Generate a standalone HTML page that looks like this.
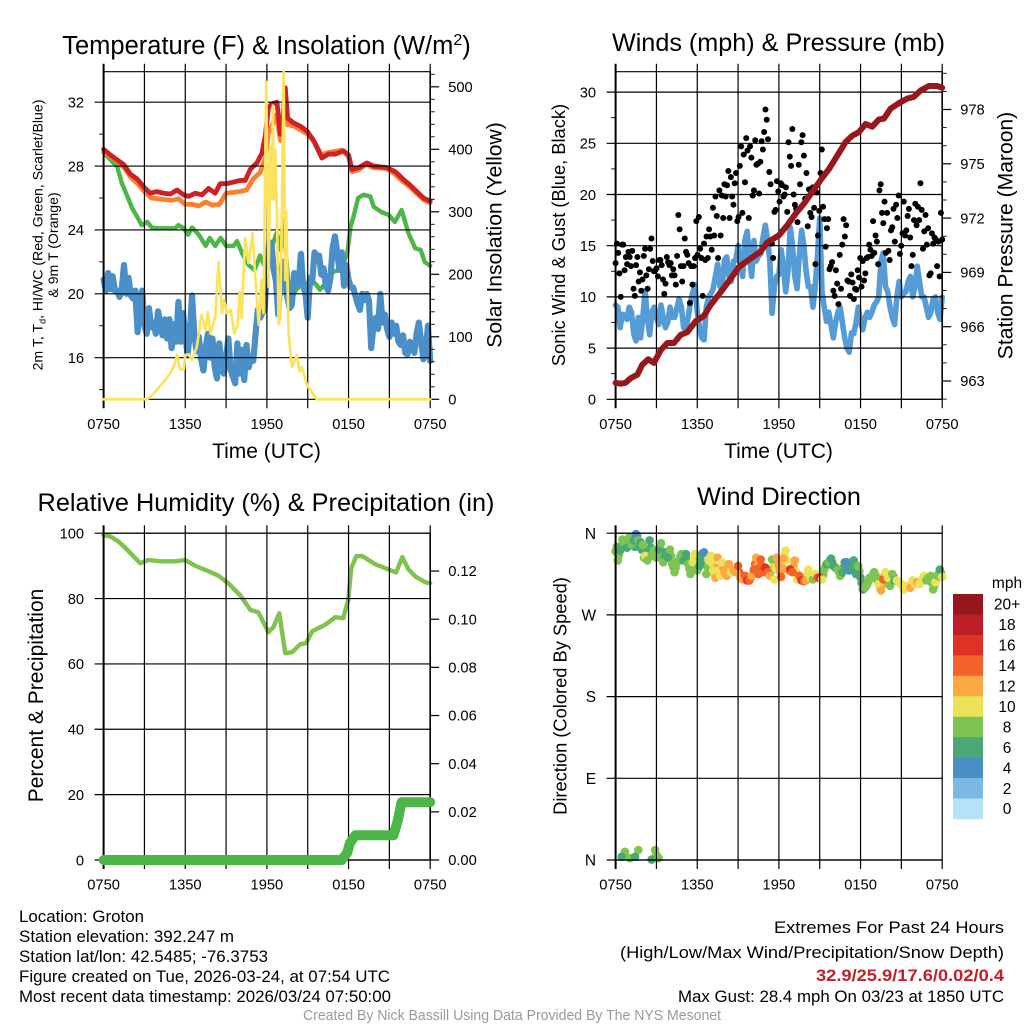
<!DOCTYPE html>
<html lang="en">
<head>
<meta charset="utf-8">
<title>Groton Mesonet Meteogram</title>
<style>
html,body{margin:0;padding:0;background:#fff;}
svg{display:block;font-family:"Liberation Sans",Arial,sans-serif;fill:#000;}
</style>
</head>
<body>
<svg id="fig" width="1024" height="1024" viewBox="0 0 1024 1024" xmlns="http://www.w3.org/2000/svg">
<rect width="1024" height="1024" fill="#fff"/>

<text x="266.5" y="54" text-anchor="middle" font-size="25.5">Temperature (F) &amp; Insolation (W/m<tspan dy="-9" font-size="16">2</tspan><tspan dy="9">)</tspan></text>
<text x="778.5" y="51" text-anchor="middle" font-size="25.2">Winds (mph) &amp; Pressure (mb)</text>
<text x="266" y="511" text-anchor="middle" font-size="25.3">Relative Humidity (%) &amp; Precipitation (in)</text>
<text x="779" y="505" text-anchor="middle" font-size="25.2">Wind Direction</text>

<text x="266.5" y="458" text-anchor="middle" font-size="21">Time (UTC)</text>
<text x="778.5" y="458" text-anchor="middle" font-size="21">Time (UTC)</text>

<text transform="translate(42.5 235) rotate(-90)" text-anchor="middle" font-size="14.1">2m T, T<tspan dy="3" font-size="9">d</tspan><tspan dy="-3">, HI/WC (Red, Green, Scarlet/Blue)</tspan></text>
<text transform="translate(58 245) rotate(-90)" text-anchor="middle" font-size="14.1">&amp; 9m T (Orange)</text>
<text transform="translate(501.5 235) rotate(-90)" text-anchor="middle" font-size="21.1">Solar Insolation (Yellow)</text>
<text transform="translate(565 235) rotate(-90)" text-anchor="middle" font-size="18.3">Sonic Wind &amp; Gust (Blue, Black)</text>
<text transform="translate(1012.5 235.5) rotate(-90)" text-anchor="middle" font-size="21.1">Station Pressure (Maroon)</text>
<text transform="translate(43 695.5) rotate(-90)" text-anchor="middle" font-size="21">Percent &amp; Precipitation</text>
<text transform="translate(566.5 696) rotate(-90)" text-anchor="middle" font-size="18.3">Direction (Colored By Speed)</text>

<g id="temp-panel"></g>
<g id="wind-panel"></g>
<g id="rh-panel"></g>
<g id="dir-panel"></g>
<g id="legend">
<text x="1007" y="588" text-anchor="middle" font-size="15.5">mph</text>
</g>

<g font-size="16.6">
<text x="19" y="922" textLength="125" lengthAdjust="spacingAndGlyphs">Location: Groton</text>
<text x="19" y="942" textLength="215" lengthAdjust="spacingAndGlyphs">Station elevation: 392.247 m</text>
<text x="19" y="962" textLength="249" lengthAdjust="spacingAndGlyphs">Station lat/lon: 42.5485; -76.3753</text>
<text x="19" y="982" textLength="371" lengthAdjust="spacingAndGlyphs">Figure created on Tue, 2026-03-24, at 07:54 UTC</text>
<text x="19" y="1002" textLength="372" lengthAdjust="spacingAndGlyphs">Most recent data timestamp: 2026/03/24 07:50:00</text>
</g>
<g font-size="16.6">
<text x="774" y="933" textLength="230" lengthAdjust="spacingAndGlyphs">Extremes For Past 24 Hours</text>
<text x="620" y="958" textLength="384" lengthAdjust="spacingAndGlyphs">(High/Low/Max Wind/Precipitation/Snow Depth)</text>
<text x="816" y="981" textLength="188" lengthAdjust="spacingAndGlyphs" font-weight="bold" fill="#c4202b" style="fill:#c4202b">32.9/25.9/17.6/0.02/0.4</text>
<text x="678" y="1002" textLength="326" lengthAdjust="spacingAndGlyphs">Max Gust: 28.4 mph On 03/23 at 1850 UTC</text>
</g>
<text x="303" y="1020" textLength="418" lengthAdjust="spacingAndGlyphs" font-size="14.4" style="fill:#9a9a9a">Created By Nick Bassill Using Data Provided By The NYS Mesonet</text>
</svg>

<script>
// ---------- Time axis ----------
const timeLabels = ['0750','1350','1950','0150','0750'];
const timeLabelHours = [0,6,12,18,24];
const timeTickHours = [0,3,6,9,12,15,18,21,24];

// ---------- Temperature panel ----------
const tempTicks = [16,20,24,28,32];
const tempMinorTicks = [14,18,22,26,30];
const solarTicks = [0,100,200,300,400,500];
const solarMinorTicks = [20,40,60,80,120,140,160,180,220,240,260,280,320,340,360,380,420,440,460,480,520];

const redHours = [0,.49,.98,1.47,1.96,2.45,2.94,3.43,3.92,4.41,4.9,5.39,5.88,6.25,6.74,7.23,7.71,8.2,8.57,9.06,9.55,10.04,10.41,10.78,11.27,11.63,11.88,12.12,12.37,12.74,12.98,13.1,13.35,13.52,13.96,14.45,14.94,15.43,16.04,16.53,17.02,17.63,18,18.25,18.74,19.35,19.84,20.82,21.43,21.92,22.53,23.02,23.51,24];
const redTemps = [29.05,28.7,28.4,28.1,27.5,27.2,26.7,26.3,26.4,26.3,26.25,26.5,26.2,26.1,26.3,26.2,26.6,26.3,26.9,26.9,27,27.1,27.1,27.8,28.2,28.8,29.9,31.7,31.9,32,30,30.1,32.9,31,30.7,30.5,30.2,29.6,28.5,28.75,28.75,28.95,28.7,27.8,27.9,28.2,28,27.9,27.65,27.25,26.8,26.4,26,25.8];

const orangeHours = [0,1,1.5,2,2.5,3,3.5,4,5,5.5,6,6.5,7,7.5,8,8.5,9,10,10.5,11,11.5,11.9,12.1,12.5,12.7,13,13.2,13.5,14,15,15.5,16,16.5,17.5,18,18.25,18.7,19.3,19.8,20.8,21.4,21.9,22.5,23,23.5,24];
const orangeTemps = [28.9,28.3,27.9,27.3,26.9,26.4,26,25.95,25.85,25.95,25.6,25.6,25.5,25.75,25.55,25.6,26.3,26.4,26.5,27.2,27.6,28.5,30,30.8,31.2,29.6,31,30.6,30.5,30,29.5,28.7,28.85,29,28.6,27.65,27.75,28.1,27.9,27.85,27.5,27.1,26.7,26.3,25.9,25.7];

const greenHours = [0,.5,1,1.35,1.7,2.1,2.45,2.8,3.2,3.55,4,4.6,5.25,5.5,5.9,6.2,6.5,7,7.5,7.8,8.2,8.6,9,9.55,9.8,10.2,10.65,11.1,11.5,11.9,12.4,12.7,13,13.2,13.7,14.1,14.6,15,15.55,15.9,16.3,16.9,17.4,17.9,18.15,18.4,18.7,19.1,19.6,19.85,20.45,20.95,21.4,21.9,22.4,22.9,23.3,23.6,24];
const greenTemps = [28.85,28.4,27.96,26.9,26.2,25.35,24.85,24.3,24.5,24.15,24.1,24.1,24.1,24.3,24.1,23.7,24.15,23.7,23,23.5,23,23.5,23,23,23.3,22.5,21.8,21.5,22.4,21.6,23,23.8,22.75,24.6,19.4,20.2,20.65,20.65,20.65,20.25,20.65,21.4,21.5,22.5,24.2,24.95,26,26.2,26.1,25.45,25.1,24.95,24.5,25.25,23.8,22.85,22.75,22,21.75];

const dewTemps = [20.9,20.2,21.3,20.3,21.1,20.2,20.2,19.8,20.3,21.8,20,21,19.9,19.7,20.2,17.6,19.5,20.2,18,17.5,19.1,17.9,18.2,17.5,18.9,18.2,17.4,18.4,17.2,18.4,16.6,18.1,17,19.5,17,18.8,17.5,16.2,17.5,19.9,17.4,16.4,17.3,15.9,15.2,16.6,17.5,16,17.2,15.4,14.7,16.9,15.5,15,16,17.2,15.3,14.8,14.4,16.9,15,16.5,14.6,16.8,15.4,16,15.8,17.5,19,18.5,18.8,19,21.5,23.2,23.2,21.5,20.8,18.7,21,22,20.5,19.8,19.1,19.3,21.3,20.8,20.6,22.5,20.5,20,18.5,21,20.8,22.6,22.2,22.4,21.2,21.6,20.5,20.2,21,22.9,23.6,22.6,21.5,22.6,20.5,21.8,20.9,20.4,20.4,19.9,19.4,19,20,19.6,20,19.6,16.6,18,18.5,17.8,20,18.2,18.7,17.8,17.3,18.2,17.5,18,17,16.8,17.4,16.3,16.2,17,16.9,16.3,17.5,18.2,17,15.9,16.4,18,15.8];

const solarHours = [0,3.2,3.43,3.92,4.41,4.9,5.15,5.4,5.6,5.9,6,6.25,6.5,6.85,7.2,7.5,7.65,7.85,8.2,8.45,8.7,8.85,9.05,9.35,9.6,9.85,10,10.15,10.4,10.65,10.95,11.15,11.4,11.6,11.75,11.95,12.12,12.25,12.37,12.44,12.49,12.61,12.74,12.86,12.98,13.1,13.23,13.35,13.42,13.59,13.84,14.2,14.4,14.57,14.94,15.67,24];
const solarValues = [0,0,4,15,28,42,52,71,48,48,71,72,63,84,135,111,140,105,132,220,138,159,138,143,105,119,172,130,258,218,266,196,119,191,138,508,180,404,320,470,320,400,300,120,132,300,524,191,300,106,52,71,44,52,23,0,0];

// ---------- Winds panel ----------
const windTicks = [0,5,10,15,20,25,30];
const windMinorTicks = [2.5,7.5,12.5,17.5,22.5,27.5];
const pressureTicks = [963,966,969,972,975,978];
const pressureMinorTicks = [962,964,965,967,968,970,971,973,974,976,977,979,980];

const windSpeeds = [9.2,9,7,8.3,8.2,7.8,9,8.5,6.4,5.7,8,6,8,10.6,8,6.3,8.5,9,8,7.3,9.2,8,7,7.5,9,8,8,8.9,9.8,9,7,7,8,9.5,10.4,11.2,8.5,7,6,5.8,9,10,10.3,10.8,12,13.2,11,11,13.6,13.9,12,11.5,13.5,13.6,15,13,12,15.5,16.4,14,12,15.5,13.5,14,14.2,15.8,17,15.6,13.5,8.4,11,12,12.2,14.6,13,10.5,12.5,16.8,15,12,10.8,14,16.5,15,12.5,11,11,9,11,14,17.7,10.5,9,7.6,8.5,7.2,6,7.5,8.5,9,7.5,6,5,4.6,6.5,6.4,7.5,9,7.5,6.8,8,8.5,8,8.5,9.2,9.5,10,13.5,14.3,11,10.5,9,8,7.3,10,11.5,10,10.3,10.5,11.5,12,10,11,13,11.5,10,10,9,8,8.5,9.8,10,8.5,7.8,10];

const gustValues = [13.3,15.2,14.3,12.3,10,15.1,15.1,12.6,13.9,13.2,14.4,13.9,13,14.5,10.8,10.1,13.1,13.9,11.5,12.4,10.6,11.7,14,14.7,12.1,10.8,12.7,14.7,15.7,13.5,12.5,12.6,12.8,12,13.6,13.6,13.1,11.7,10.3,11.3,13.9,13.4,13.1,13.3,12.1,12.7,12.1,11.2,14,18,16.6,13,11.5,13,15.7,14.4,14.1,13.3,9.4,13,11.2,13,13.8,17.4,14.1,17.8,14.7,13.8,10.1,15.2,13.6,15.9,13.8,16.6,15.9,14.6,18.7,16,19.8,17.9,13.8,20.4,16,19.9,17.7,21,19.8,20.9,22.3,17.7,21.7,19.8,19,21.1,22.1,17.4,17.8,22.8,24.7,18.2,23.9,21.2,25.5,24.3,17.7,24.7,23.6,19.9,20.4,25.3,22.9,23,20.1,23.2,25.2,24.4,26.1,28.3,27.3,25.4,22.2,21,15.2,13.8,18.3,18.5,21.3,20.3,19.3,21.1,20.9,19.8,20,20.7,18.3,25.1,23.7,22.8,26.4,20,19,18.6,17.3,22.9,21,25.1,25.8,23.8,19.6,22.1,16.9,20.5,18.2,17.8,20.7,18.7,13.2,20.2,16,18.4,22.1,24.4,18.8,17.6,14.9,16.7,17.6,12.7,13,13.4,10.6,10.1,12.6,11.3,9.3,14.1,10.8,15.1,17.6,15.9,17,11.6,11.5,10.1,12.2,11.4,9.8,10.8,10.7,12.6,11.9,13.8,11,13.5,11.6,12.3,13.8,13.9,15.1,14.6,14,17.4,14.3,16,15.4,13.2,20.4,21,18.2,17.2,19.3,14.3,18.2,14.5,13.6,16.5,16.8,18.6,15.4,19,17.7,19.9,14.2,15,16.2,19.3,16,16.5,17.9,18.6,15.8,13,14.1,17.5,19.1,17,18.8,17.5,21.1,18.5,14.7,16.4,18,15.1,16.7,12.1,12.3,16.2,15.2,15.8,15.6,13,15.4,12,18.2,15.6];

const pressureHours = [0,.37,.73,1.1,1.6,1.96,2.4,2.82,3.31,3.8,4.29,4.78,5.27,5.88,6.49,6.98,7.71,8.45,9.06,9.8,10.65,11.14,12,12.61,13.23,13.84,14.45,15.06,15.67,16.29,16.9,17.39,17.88,18.37,18.86,19.35,19.72,20.21,20.82,21.43,21.92,22.41,23.02,23.63,24];
const pressureValues = [962.9,962.85,962.9,963.15,963.35,963.9,964.2,964,964.7,965.1,965.1,965.55,965.7,966.3,966.6,967.2,967.9,968.65,969.3,969.7,970.15,970.65,971.05,971.6,972.25,972.8,973.45,974.1,974.7,975.45,976.2,976.55,976.75,977.2,977.05,977.45,977.5,978.05,978.35,978.6,978.7,979.05,979.3,979.3,979.2];

// ---------- Humidity panel ----------
const rhTicks = [0,20,40,60,80,100];
const precipTicks = [0,0.02,0.04,0.06,0.08,0.10,0.12];
const rhHours = [0,.5,1.08,1.6,2.18,2.7,3.28,4.17,5.27,6,6.74,7.69,8.43,9.16,10.04,10.79,11.37,12.11,12.47,12.91,13.35,13.86,14.45,14.89,15.33,16.29,17.03,17.61,17.97,18.2,18.57,19.01,19.96,21.06,21.5,21.95,22.39,22.9,23.64,24];
const rhValues = [99.4,99,97.5,95.5,93,90.8,91.8,91.4,91.4,91.8,90,88.4,87,84.7,81,76.5,75.8,69.7,71.2,75.5,63.3,63.6,66,66.4,70,72,74.3,74,79.5,89.3,93,93,90.5,88.7,88,92.7,89,86.8,85,84.7];
const precipHours = [0,17.5,17.9,18.1,18.5,21.3,21.6,21.9,24];
const precipValues = [0,0,.003,.007,.0103,.0103,.016,.024,.024];

// ---------- Direction panel ----------
const dirTickLabels = ['N','E','S','W','N'];
const dirTickValues = [0,90,180,270,360];
const dirValues = [340,330,341,353,351,344,355,348,352,359,352,350,347,335,330,352,335,341,333,342,349,328,339,333,342,326,317,328,330,337,330,337,326,315,328,337,319,324,337,339,315,330,335,319,311,333,313,328,317,313,326,317,319,317,324,311,309,313,308,308,313,320,333,315,331,317,322,317,313,331,309,333,324,312,332,341,319,320,317,330,309,313,308,307,308,320,311,309,315,311,311,309,320,326,328,332,324,322,320,313,317,328,328,319,322,330,315,324,311,298,300,304,311,311,317,311,304,297,309,317,311,302,315,308,308,306,304,298,300,302,300,308,304,306,304,308,313,308,311,313,298,306,313,320,312];
const dirValuesBetween = [345,336,346,350,349,348,352,350,345,357,350,342,333,332,340,344,338,337,336,345,340,333,336,338,335,322,322,329,334,333,334,331,321,322,332,328,322,330,338,327,323,332,327,315,322,322,321,322,315,320,320,318,318,320,317,310,311,310,308,310,316,326,324,322,324,319,320,315,322,320,321,328,318,322,336,330,320,318,324,318,311,310,308,308,314,315,310,312,313,311,310,314,323,327,330,328,323,321,317,315,322,328,324,320,326,322,320,318,305,299,302,307,311,314,314,308,300,303,313,314,306,308,312,308,307,305,301,299,301,301,304,306,305,306,306,310,310,309,312,305,302,309,316,316];
const wrapHours = [.69,.45,1.06,1.67,1.43,2.9,3,2.65,3.15];
const wrapDirs = [9,3.6,2,11,3.6,11,5.5,.5,2];
const wrapSpeeds = [8,6,8,8,6,8,8,6,8];

const speedLabels = ['20+','18','16','14','12','10','8','6','4','2','0'];
const speedColors = ['#95161c','#bc1d27','#e03127','#f46229','#fba843','#ebe257','#7dc450','#4aa776','#4a90c5','#7bb8e4','#b7e2f8'];

// ---------- Axis functions ----------
const HOURS = 24, PLOT_W = 326.6;
const leftX0 = 103.6, rightX0 = 615.6;
const timeX = (x0, h) => x0 + h / HOURS * PLOT_W;
const topY0 = 71.7, topY1 = 399.3, botY0 = 533.2, botY1 = 860;
const tempY = v => 357.7 - (v - 16) * 15.97;
const solarY = v => topY1 - v * 0.625;
const windY = v => topY1 - v * 10.24;
const pressureY = v => 381 - (v - 963) * 18.1;
const rhY = v => botY1 - v * 3.268;
const precipY = v => botY1 - v * 2408;
const dirY = v => botY1 - v * 0.9078;

const NS = 'http://www.w3.org/2000/svg';
function mk(parent, tag, attrs, text) {
  const el = document.createElementNS(NS, tag);
  for (const k in attrs) el.setAttribute(k, attrs[k]);
  if (text !== undefined) el.textContent = text;
  parent.appendChild(el);
  return el;
}
const uniformHours = n => Array.from({length: n}, (_, i) => i * HOURS / (n - 1));
function pathFrom(x0, hours, values, yFn) {
  return values.map((v, i) => (i ? 'L' : 'M') + timeX(x0, hours[i]).toFixed(2) + ' ' + yFn(v).toFixed(2)).join('');
}
function drawLine(parent, x0, hours, values, yFn, color, width) {
  return mk(parent, 'path', {d: pathFrom(x0, hours, values, yFn), fill: 'none', stroke: color, 'stroke-width': width, 'stroke-linejoin': 'round', 'stroke-linecap': 'round'});
}
const tickStyle = {stroke: '#000', 'stroke-width': 1.2};

function drawFrame(parent, x0, yTop, yBot) {
  const x1 = x0 + PLOT_W;
  const frame = mk(parent, 'g', {});
  
  
  timeTickHours.forEach((h, i) => {
    const x = timeX(x0, h);
    const isEdge = (i === 0);
    const line = mk(frame, 'line', Object.assign({}, tickStyle, {x1: x, x2: x, y1: yTop - 8, y2: yBot + 9, 'stroke-width': isEdge ? 2 : 1.2}));
    
    
  });
  const top = mk(frame, 'line', Object.assign({}, tickStyle, {x1: x0, x2: x1, y1: yTop, y2: yTop}));
  
  
  const bottom = mk(frame, 'line', Object.assign({}, tickStyle, {x1: x0, x2: x1, y1: yBot, y2: yBot}));
  
  
  timeLabelHours.forEach((h, i) => {
    const t = mk(frame, 'text', {x: timeX(x0, h), y: yBot + 29.5, 'text-anchor': 'middle', 'font-size': 14.7}, timeLabels[i]);
    
    
  });
}
function drawLeftAxis(parent, x0, ticks, minor, yFn, labels, fs, grid) {
  const x1 = x0 + PLOT_W;
  ticks.forEach((v, i) => {
    const y = yFn(v);
    const line = mk(parent, 'line', Object.assign({}, tickStyle, {x1: x0 - 9, x2: grid ? x1 : x0, y1: y, y2: y}));
    
    
    const t = mk(parent, 'text', {x: x0 - 19.5, y: y + fs * 0.36, 'text-anchor': 'end', 'font-size': fs}, labels[i]);
    
    
  });
  minor.forEach(v => {
    const y = yFn(v);
    const line = mk(parent, 'line', Object.assign({}, tickStyle, {x1: x0 - 4.5, x2: x0, y1: y, y2: y, 'stroke-width': 0.9}));
    
    
  });
}
function drawRightAxis(parent, x0, ticks, minor, yFn, labels) {
  const x1 = x0 + PLOT_W;
  const spine = mk(parent, 'line', {x1: x1, x2: x1, y1: yFn === solarY || yFn === pressureY ? topY0 : botY0, y2: yFn === solarY || yFn === pressureY ? topY1 : botY1, stroke: '#000', 'stroke-width': 1.6});
  
  
  ticks.forEach((v, i) => {
    const y = yFn(v);
    const line = mk(parent, 'line', Object.assign({}, tickStyle, {x1: x1, x2: x1 + 9, y1: y, y2: y}));
    
    
    const t = mk(parent, 'text', {x: x1 + 18, y: y + 5.2, 'font-size': 14.7}, labels[i]);
    
    
  });
  minor.forEach(v => {
    const y = yFn(v);
    const line = mk(parent, 'line', Object.assign({}, tickStyle, {x1: x1, x2: x1 + 4.5, y1: y, y2: y, 'stroke-width': 0.9}));
    
    
  });
}

// ---------- Temperature panel drawing ----------
(function () {
  const p = document.getElementById('temp-panel');
  const green = drawLine(p, leftX0, greenHours, greenTemps, tempY, '#4cb748', 4.4);
  
  
  const orange = drawLine(p, leftX0, orangeHours, orangeTemps, tempY, '#f9812f', 4.8);
  
  
  const red = drawLine(p, leftX0, redHours, redTemps, tempY, '#cf2026', 4.8);
  
  
  const blue = drawLine(p, leftX0, uniformHours(dewTemps.length), dewTemps, tempY, '#4a8fc7', 6.2);
  
  
  drawFrame(p, leftX0, topY0, topY1);
  drawLeftAxis(p, leftX0, tempTicks, tempMinorTicks, tempY, tempTicks.map(String), 14.7, true);
  drawRightAxis(p, leftX0, solarTicks, solarMinorTicks, solarY, solarTicks.map(String));
  const yellow = drawLine(p, leftX0, solarHours, solarValues, solarY, '#fde35d', 2.7);
  
  
})();

// ---------- Winds panel drawing ----------
(function () {
  const p = document.getElementById('wind-panel');
  const blue = drawLine(p, rightX0, uniformHours(windSpeeds.length), windSpeeds, windY, '#559cd6', 5.6);
  
  
  drawFrame(p, rightX0, topY0, topY1);
  drawLeftAxis(p, rightX0, windTicks, windMinorTicks, windY, windTicks.map(String), 14.7, true);
  drawRightAxis(p, rightX0, pressureTicks, pressureMinorTicks, pressureY, pressureTicks.map(String));
  const gustHours = uniformHours(gustValues.length);
  gustValues.forEach((v, i) => {
    const c = mk(p, 'circle', {cx: timeX(rightX0, gustHours[i]), cy: windY(v), r: 3, fill: '#000'});
    
    
  });
  const maroon = drawLine(p, rightX0, pressureHours, pressureValues, pressureY, '#96181c', 6);
  
  
})();

// ---------- Humidity panel drawing ----------
(function () {
  const p = document.getElementById('rh-panel');
  const rh = drawLine(p, leftX0, rhHours, rhValues, rhY, '#7fc24f', 4.4);
  
  
  drawFrame(p, leftX0, botY0, botY1);
  drawLeftAxis(p, leftX0, rhTicks, [], rhY, rhTicks.map(String), 14.7, true);
  drawRightAxis(p, leftX0, precipTicks, [], precipY, precipTicks.map(v => v.toFixed(2)));
  const pr = drawLine(p, leftX0, precipHours, precipValues, precipY, '#4cb748', 10);
  
  
})();

// ---------- Direction panel drawing ----------
(function () {
  const p = document.getElementById('dir-panel');
  const colorFor = s => speedColors[speedColors.length - 1 - Math.min(10, Math.floor(s / 2))];
  const step = HOURS / (dirValues.length - 1);
  dirValuesBetween.forEach((d, i) => {
    const speed = (windSpeeds[i] + windSpeeds[i + 1]) / 2;
    const c = mk(p, 'circle', {cx: timeX(rightX0, (i + 0.5) * step), cy: dirY(d), r: 4.3, fill: colorFor(speed)});
    
    
  });
  dirValues.forEach((d, i) => {
    const c = mk(p, 'circle', {cx: timeX(rightX0, i * step), cy: dirY(d), r: 4.3, fill: colorFor(windSpeeds[i])});
    
    
  });
  wrapDirs.forEach((d, i) => {
    const c = mk(p, 'circle', {cx: timeX(rightX0, wrapHours[i]), cy: dirY(d), r: 4.3, fill: colorFor(wrapSpeeds[i])});
    
    
  });
  drawFrame(p, rightX0, botY0, botY1);
  drawLeftAxis(p, rightX0, dirTickValues, [], dirY, dirTickLabels, 15.5, true);
})();

// ---------- Colorbar ----------
(function () {
  const g = document.getElementById('legend');
  const top = 594, boxH = 20.45;
  speedLabels.forEach((lab, i) => {
    const r = mk(g, 'rect', {x: 953, y: top + i * boxH, width: 30, height: boxH + 0.3, fill: speedColors[i]});
    
    
    const t = mk(g, 'text', {x: 1007, y: top + i * boxH + 15.7, 'text-anchor': 'middle', 'font-size': 15.5}, lab);
    
    
  });
})();
</script>
</body>
</html>
